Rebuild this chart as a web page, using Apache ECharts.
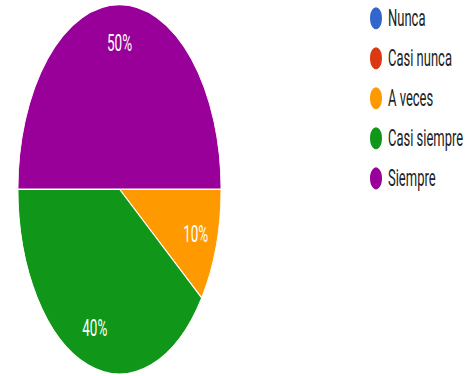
<!DOCTYPE html>
<html>
<head>
<meta charset="utf-8">
<script src="https://cdn.jsdelivr.net/npm/echarts@6/dist/echarts.min.js"></script>
<style>
  html, body { margin: 0; padding: 0; background: #fff; overflow: hidden; }
  #wrap { width: 473px; height: 376px; overflow: hidden; }
  /* the chart is laid out on a shorter canvas and stretched vertically */
  #chart { width: 473px; height: 206.6px; transform: scale(1, 1.82); transform-origin: 0 0; }
</style>
</head>
<body>
<div id="wrap"><div id="chart"></div></div>
<script>
// Response categories and their shares (%)
const categories = ['Nunca', 'Casi nunca', 'A veces', 'Casi siempre', 'Siempre'];
const shares = [0, 0, 10, 40, 50];
const palette = ['#3366cc', '#dc3912', '#ff9900', '#109618', '#990099'];

const chart = echarts.init(document.getElementById('chart'), null, { renderer: 'svg' });

const pieData = categories.map((name, i) => ({ name, value: shares[i] }));
const center = [119.5, 104];
const radius = 101.5;

chart.setOption({
  animation: false,
  color: palette,
  legend: {
    orient: 'vertical',
    left: 368,
    top: 2,
    padding: 0,
    icon: 'circle',
    itemWidth: 14,
    itemHeight: 14,
    itemGap: 6,
    data: categories,
    textStyle: { fontFamily: 'Roboto', fontSize: 13, color: '#222' }
  },
  series: [
    {
      type: 'pie',
      center: center,
      radius: radius,
      startAngle: 0,
      clockwise: true,
      data: pieData,
      label: { show: false },
      labelLine: { show: false },
      itemStyle: { borderColor: '#fff', borderWidth: 0.8 },
      emphasis: { disabled: true }
    },
    {
      // transparent twin used only to place the percentage labels further out
      type: 'pie',
      center: center,
      radius: radius * 1.52,
      startAngle: 0,
      clockwise: true,
      silent: true,
      legendHoverLink: false,
      data: pieData,
      itemStyle: { color: 'transparent' },
      label: {
        show: true,
        position: 'inside',
        fontFamily: 'Roboto',
        fontSize: 13.5,
        color: '#fff',
        formatter: p => (p.value > 0 ? p.value + '%' : '')
      },
      labelLine: { show: false },
      emphasis: { disabled: true }
    }
  ]
});
</script>
</body>
</html>
